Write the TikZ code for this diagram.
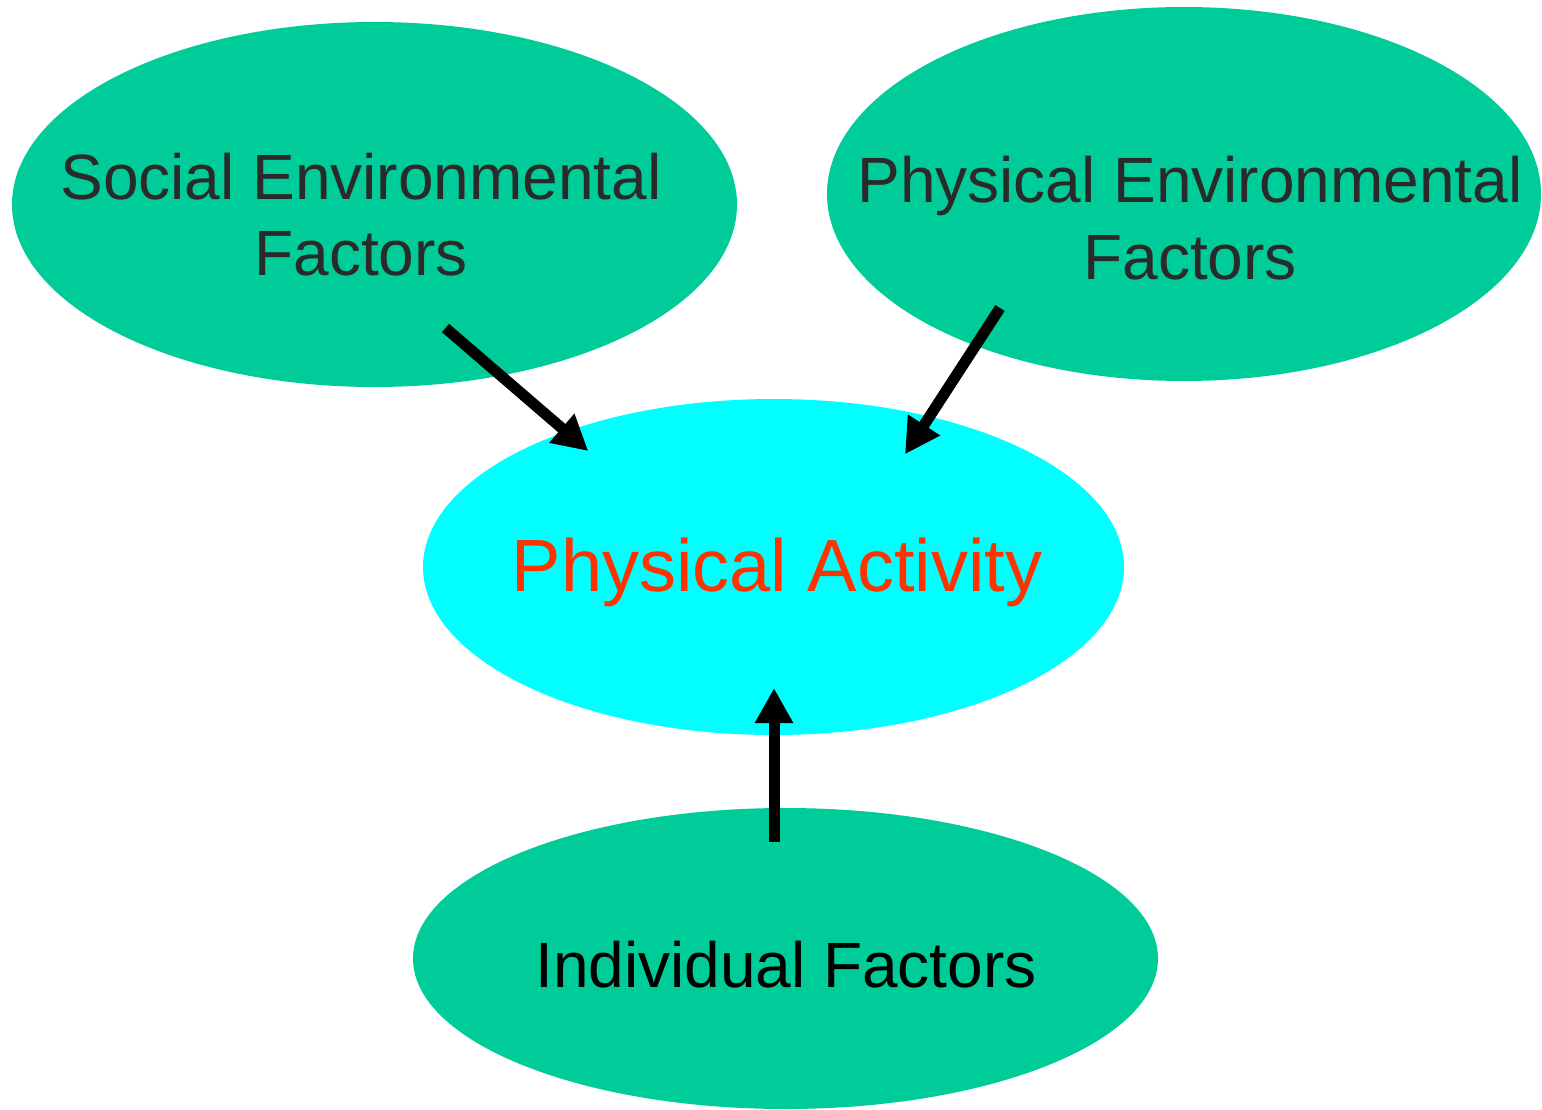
\documentclass[tikz,border=0pt]{standalone}
\usepackage{fontspec}
\setmainfont{Liberation Sans}
\usetikzlibrary{shapes.geometric,arrows.meta,calc}

\definecolor{factorgreen}{RGB}{0,204,153}
\definecolor{activitycyan}{RGB}{0,255,255}
\definecolor{activityred}{RGB}{255,51,0}
\definecolor{labelgray}{RGB}{42,42,42}

\tikzset{
  blob/.style={ellipse, inner sep=0pt, draw=none},
  factorblob/.style={blob, fill=factorgreen},
  activityblob/.style={blob, fill=activitycyan},
  lbl/.style={anchor=base, inner sep=0pt, font=\fontsize{64}{76}\selectfont},
  biglbl/.style={anchor=base, inner sep=0pt, font=\fontsize{74}{88}\selectfont},
  influence/.style={line width=11pt, black,
    -{Triangle[length=35pt,width=36pt]}}
}

\begin{document}
\begin{tikzpicture}[x=1pt,y=-1pt]
  \useasboundingbox (0,0) rectangle (1542,1110);

  % ellipses
  \node[factorblob, minimum width=725pt, minimum height=365pt] (social) at (374.5,204.5) {};
  \node[factorblob, minimum width=714pt, minimum height=374pt] (physenv) at (1184,194) {};
  \node[activityblob, minimum width=701pt, minimum height=336pt] (activity) at (773.5,567) {};
  \node[factorblob, minimum width=745pt, minimum height=301pt] (individual) at (785.5,958.5) {};

  % labels
  \node[lbl, text=labelgray] (socialA) at (361,200) {Social Environmental};
  \node[lbl, text=labelgray] (socialB) at (361,276) {Factors};
  \node[lbl, text=labelgray] (physenvA) at (1190,203) {Physical Environmental};
  \node[lbl, text=labelgray] (physenvB) at (1190,279) {Factors};
  \node[biglbl, text=activityred] (activityA) at (777,591) {Physical Activity};
  \node[lbl, text=black] (individualA) at (786,987) {Individual Factors};

  % connector ends
  \coordinate (s1) at ($(social.center)+(71,123.5)$);
  \coordinate (t1) at ($(activity.center)+(-185.2,-116)$);
  \coordinate (s2) at ($(physenv.center)+(-184,114)$);
  \coordinate (t2) at ($(activity.center)+(131.5,-112.7)$);
  \coordinate (s3) at ($(individual.center)+(-11.5,-117)$);
  \coordinate (t3) at ($(activity.center)+(0.5,121)$);

  % influences
  \draw[influence] (s1) -- (t1);
  \draw[influence] (s2) -- (t2);
  \draw[influence] (s3) -- (t3);
\end{tikzpicture}
\end{document}
